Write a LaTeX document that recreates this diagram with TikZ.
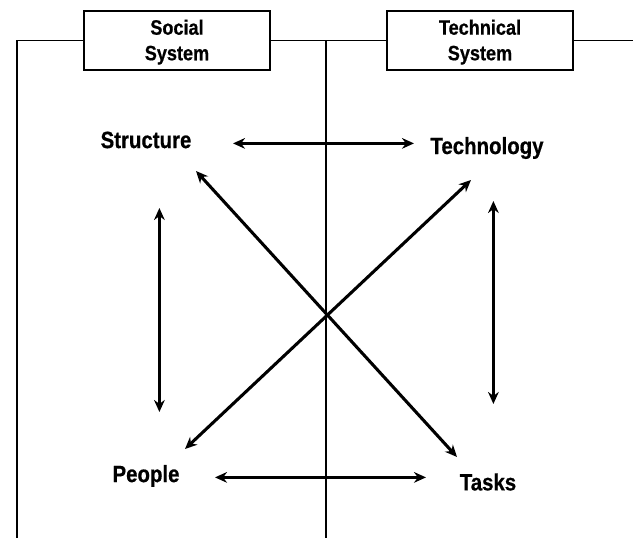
\documentclass[tikz,border=0pt]{standalone}
\usepackage{fontspec}
\setmainfont{Liberation Sans}[FakeStretch=0.87,BoldFeatures={FakeBold=0.6}]
\usetikzlibrary{arrows.meta}
\newcommand{\boxtext}[2]{\raisebox{-5pt}[0pt][0pt]{\begin{tabular}{@{}c@{}}#1\\#2\end{tabular}}}
\tikzset{
 boxn/.style={draw=black,line width=1.5pt,minimum width=186pt*0.75,minimum height=59pt*0.75,inner sep=0pt,font=\bfseries\fontsize{15.6}{19.2}\selectfont,fill=white},
 lab/.style={inner sep=0pt,font=\bfseries\fontsize{17.6}{20}\selectfont},
 frame/.style={line width=1.3pt},
 arr/.style={line width=2.3pt,{Stealth[length=9pt,width=8pt]}-{Stealth[length=9pt,width=8pt]}}
}
\begin{document}
\begin{tikzpicture}[x=0.75pt,y=-0.75pt]
\useasboundingbox (0,0) rectangle (633,538);
\coordinate (fl) at (17,538);
\coordinate (ftl) at (17,40.5);
\coordinate (ftr) at (633,40.5);
\coordinate (ct) at (326,40.5);
\coordinate (cb) at (326,538);
\draw[frame] (fl) -- (ftl) -- (ftr);
\draw[frame] (ct) -- (cb);
\node[boxn] (social) at (177,40.5) {\boxtext{Social}{System}};
\node[boxn] (tech) at (480,40.5) {\boxtext{Technical}{System}};
\node[lab] (structure) at (146,140) {Structure};
\node[lab] (technology) at (487,148) {Technology};
\node[lab] (people) at (146,476) {People};
\node[lab] (tasks) at (488,482) {Tasks};
\coordinate (sr) at (233,143.4);
\coordinate (tl) at (414,143.4);
\coordinate (sb) at (159.4,208);
\coordinate (pt) at (159.4,412);
\coordinate (tb) at (493.4,201);
\coordinate (tat) at (493.4,404);
\coordinate (pr) at (215,477.4);
\coordinate (tal) at (426,477.4);
\coordinate (x1) at (196,171);
\coordinate (x2) at (457,457);
\coordinate (y1) at (471,180);
\coordinate (y2) at (185,449);
\draw[arr] (sr) -- (tl);
\draw[arr] (sb) -- (pt);
\draw[arr] (tb) -- (tat);
\draw[arr] (pr) -- (tal);
\draw[arr] (x1) -- (x2);
\draw[arr] (y1) -- (y2);
\end{tikzpicture}
\end{document}
